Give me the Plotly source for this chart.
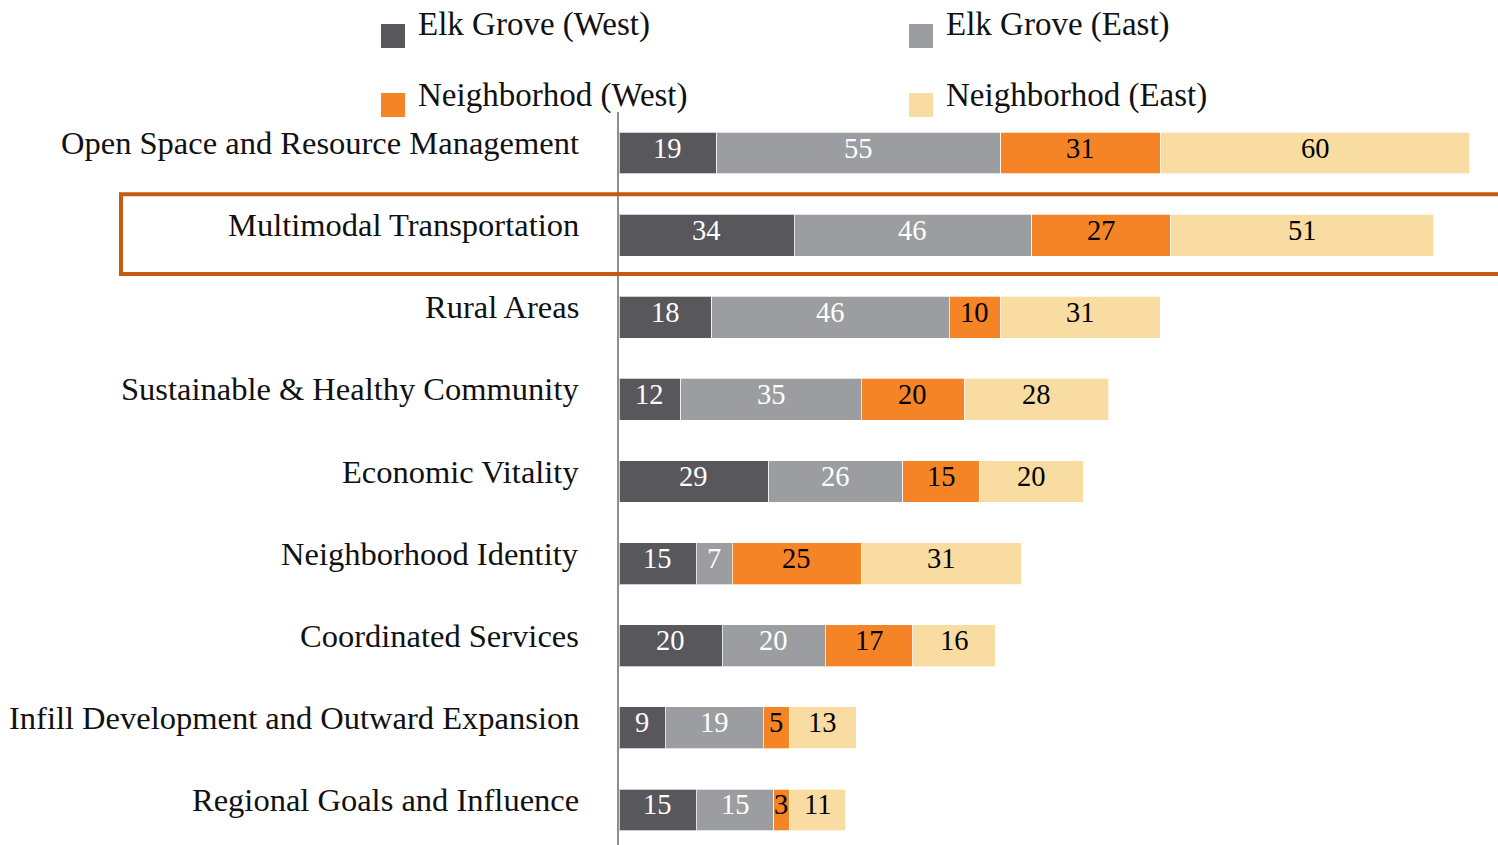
import plotly.graph_objects as go

categories = [
    "Open Space and Resource Management",
    "Multimodal Transportation",
    "Rural Areas",
    "Sustainable & Healthy Community",
    "Economic Vitality",
    "Neighborhood Identity",
    "Coordinated Services",
    "Infill Development and Outward Expansion",
    "Regional Goals and Influence",
]
series_names = ["Elk Grove (West)", "Elk Grove (East)", "Neighborhod (West)", "Neighborhod (East)"]
elk_west = [19, 34, 18, 12, 29, 15, 20, 9, 15]
elk_east = [55, 46, 46, 35, 26, 7, 20, 19, 15]
nbhd_west = [31, 27, 10, 20, 15, 25, 17, 5, 3]
nbhd_east = [60, 51, 31, 28, 20, 31, 16, 13, 11]
highlight = "Multimodal Transportation"

colors = ["#58575c", "#9c9da0", "#f58426", "#f9dca1"]
text_colors = ["white", "white", "black", "black"]
FONT = "Liberation Serif"
FS_BAR = 28.5
FS_LAB = 32.5
FS_LEG = 33

W, H = 1498, 845
L, T, R, B = 619, 112, 0, 0
pw, ph = W - L - R, H - T - B
step = 82.2

def px2x(px):
    return (px - L) / pw

def py2y(py):
    return (H - B - py) / ph

fig = go.Figure()
annotations = []
shapes = []
all_series = [elk_west, elk_east, nbhd_west, nbhd_east]
base = [0] * len(categories)
for name, vals, c, tc in zip(series_names, all_series, colors, text_colors):
    fig.add_trace(go.Bar(
        y=categories, x=vals, name=name, orientation="h",
        marker=dict(color=c, line=dict(color="rgba(255,255,255,0.7)", width=1)),
        showlegend=False, hoverinfo="x+name",
    ))
    for i, (cat, v) in enumerate(zip(categories, vals)):
        annotations.append(dict(
            x=base[i] + v / 2, xref="x", y=cat, yref="y", text=str(v), showarrow=False,
            xanchor="center", yanchor="middle", yshift=5,
            font=dict(family=FONT, size=FS_BAR, color=tc),
        ))
        base[i] += v

for cat in categories:
    annotations.append(dict(
        x=px2x(581), xref="paper", y=cat, yref="y", text=cat, showarrow=False,
        xanchor="right", yanchor="middle", yshift=10,
        font=dict(family=FONT, size=FS_LAB, color="#111111"),
    ))

# custom legend
leg_pos = [(381, 36, 416, 25), (909, 36, 944, 25), (381, 105, 416, 95), (909, 105, 944, 95)]
for name, c, (sx, sy, tx, ty) in zip(series_names, colors, leg_pos):
    shapes.append(dict(type="rect", xref="paper", yref="paper",
                       x0=px2x(sx), x1=px2x(sx + 24), y0=py2y(sy - 12), y1=py2y(sy + 12),
                       fillcolor=c, line=dict(width=0)))
    annotations.append(dict(x=px2x(tx), xref="paper", y=py2y(ty), yref="paper", text=name,
                            showarrow=False, xanchor="left", yanchor="middle",
                            font=dict(family=FONT, size=FS_LEG, color="#111111")))

# highlight box
hi = categories.index(highlight)
shapes.append(dict(type="rect", xref="paper", yref="y",
                   x0=px2x(121), x1=px2x(1502), y0=hi - 41 / step, y1=hi + 39 / step,
                   line=dict(color="#c55a11", width=4), fillcolor="rgba(0,0,0,0)"))

x_max = pw / 5.157
fig.update_layout(
    width=W, height=H, barmode="stack", bargap=0.49,
    margin=dict(l=L, r=R, t=T, b=B),
    paper_bgcolor="white", plot_bgcolor="white",
    font=dict(family=FONT, size=FS_BAR),
    xaxis=dict(range=[0, x_max], visible=False, fixedrange=True),
    yaxis=dict(categoryorder="array", categoryarray=categories,
               range=[len(categories) - 0.5 - (851 - 845) / step, -0.5],
               showticklabels=False, showgrid=False, zeroline=False,
               showline=True, linecolor="#8f8f8f", linewidth=1.5, ticks=""),
    annotations=annotations, shapes=shapes,
)
fig.write_html("out.html", config={"displayModeBar": False},
               post_script="document.body.style.margin='0';document.body.style.overflow='hidden';")
